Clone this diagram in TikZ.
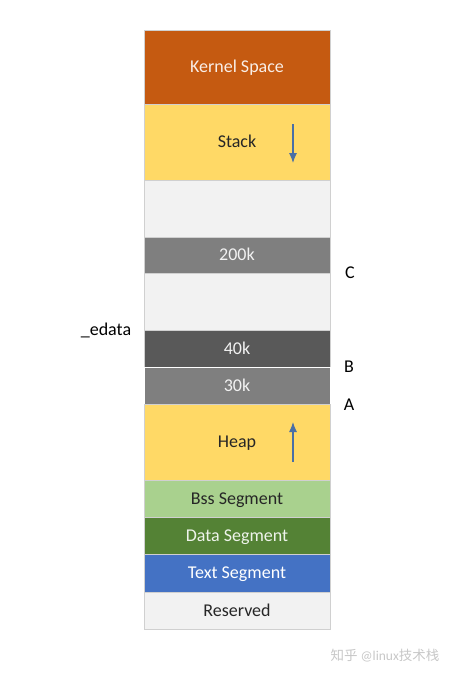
\documentclass[tikz,border=0pt]{standalone}
\usepackage{fontspec}
\usetikzlibrary{arrows.meta}
\setmainfont{Carlito}
\newfontfamily\cjk{Noto Sans CJK SC}
\definecolor{kern}{HTML}{C55A11}
\definecolor{stk}{HTML}{FFD966}
\definecolor{blank}{HTML}{F2F2F2}
\definecolor{gmid}{HTML}{7F7F7F}
\definecolor{gdark}{HTML}{595959}
\definecolor{bss}{HTML}{A9D18E}
\definecolor{dat}{HTML}{548235}
\definecolor{txt}{HTML}{4472C4}
\definecolor{edge}{HTML}{D0D0D0}
\definecolor{arr}{HTML}{4A6FA5}
\begin{document}
\begin{tikzpicture}[x=1pt,y=-1pt,
  seg/.style={draw=edge,line width=0.8pt,minimum width=186pt,inner sep=0pt,text height=11.5pt,text depth=0pt,font=\fontsize{18}{21}\selectfont},
  lab/.style={font=\fontsize{18}{21}\selectfont,text=black,text height=11.5pt,text depth=0pt},
  growarrow/.style={draw=arr,line width=1.1pt,-{Latex[length=10pt,width=8pt]}}]
\useasboundingbox (0,0) rectangle (451,675);
\node[seg,fill=kern,minimum height=74pt,text=white!90!kern] (kernel) at (237,67) {Kernel Space};
\node[seg,fill=stk,minimum height=76pt,text=black!85] (stack) at (237,142) {Stack};
\node[seg,fill=blank,minimum height=57pt] (gap1) at (237,208.5) {};
\node[seg,fill=gmid,minimum height=36pt,text=white!90!gray] (k200) at (237,255) {200k};
\node[seg,fill=blank,minimum height=57pt] (gap2) at (237,301.5) {};
\node[seg,fill=gdark,minimum height=37pt,text=white!90!gray] (k40) at (237,348.5) {40k};
\node[seg,fill=gmid,draw=white,minimum height=37pt,text=white!90!gray] (k30) at (237,385.5) {30k};
\node[seg,fill=stk,minimum height=76pt,text=black!85] (heap) at (237,442) {Heap};
\node[seg,fill=bss,minimum height=37pt,text=black!85] (bss) at (237,498.5) {Bss Segment};
\node[seg,fill=dat,minimum height=37pt,text=white!90!dat] (data) at (237,535.5) {Data Segment};
\node[seg,fill=txt,minimum height=38pt,text=white] (text) at (237,573) {Text Segment};
\node[seg,fill=blank,minimum height=37pt,text=black!85] (res) at (237,610.5) {Reserved};
\coordinate (s1) at (293,124);
\coordinate (s2) at (293,163);
\draw[growarrow] (s1) -- (s2);
\coordinate (h1) at (293,462);
\coordinate (h2) at (293,422);
\draw[growarrow] (h1) -- (h2);
\node[lab] (C) at (350,273) {C};
\node[lab] (B) at (349,367) {B};
\node[lab] (A) at (349,405) {A};
\node[lab] (edata) at (106,330) {\_edata};
\node[font=\fontsize{13.5}{16}\selectfont,text=black!22] (wm) at (385,656) {{\cjk 知乎} @linux{\cjk 技术栈}};
\end{tikzpicture}
\end{document}
